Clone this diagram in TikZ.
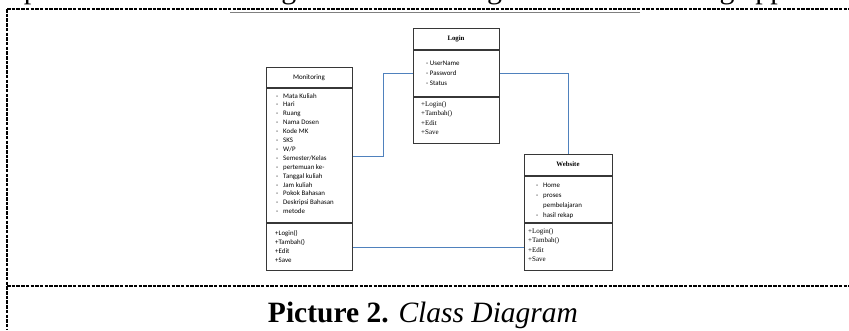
\documentclass[tikz,border=0pt]{standalone}
\usepackage{fontspec}
\setmainfont{Liberation Serif}
\newfontfamily\umlsans{Carlito}
\newfontfamily\umlserif{Liberation Serif}
\definecolor{connblue}{RGB}{79,129,189}
\definecolor{boxgray}{RGB}{55,55,55}
\tikzset{
  classbox/.style={draw=boxgray, line width=1.1pt, anchor=north west, inner sep=0pt, fill=white},
  divider/.style={draw=boxgray, line width=1.1pt},
  conn/.style={draw=connblue, line width=1pt},
  frame/.style={draw=black, line width=1.2pt, dash pattern=on 3.5pt off 1.2pt},
  attr/.style={anchor=base west, inner sep=0pt, font=\umlsans\fontsize{6.9}{7}\selectfont},
  meth/.style={anchor=base west, inner sep=0pt, font=\umlserif\fontsize{7}{7}\selectfont},
  ttlsans/.style={anchor=center, inner sep=0pt, font=\umlsans\fontsize{7}{8}\selectfont},
  ttlserif/.style={anchor=center, inner sep=0pt, font=\umlserif\bfseries\fontsize{6.8}{8}\selectfont},
}
\begin{document}
\begin{tikzpicture}[x=1pt,y=-1pt]
\useasboundingbox (0,0) rectangle (849,330);
\clip (0,0) rectangle (849,330);

% cut-off line of the preceding paragraph
\node[anchor=base west, inner sep=0pt, font=\fontsize{30}{32}\selectfont] (prevtext) at (-28,-2)
  {components. All the changes from the design of the monitoring application};
\draw[gray, line width=1.2pt] (230,12.5) -- (640,12.5);

% dashed frame
\draw[frame] (7,9) -- (849,9);
\draw[frame] (7,9) -- (7,330);
\draw[frame] (7,286) -- (849,286);

% class boxes
\node[classbox, minimum width=86, minimum height=203] (mon) at (266,67) {};
\node[classbox, minimum width=86, minimum height=115] (login) at (413,28) {};
\node[classbox, minimum width=88, minimum height=116] (web) at (524,154) {};

\draw[divider] ([yshift=-21pt]mon.north west) -- ([yshift=-21pt]mon.north east);
\draw[divider] ([yshift=-156pt]mon.north west) -- ([yshift=-156pt]mon.north east);
\draw[divider] ([yshift=-22pt]login.north west) -- ([yshift=-22pt]login.north east);
\draw[divider] ([yshift=-69pt]login.north west) -- ([yshift=-69pt]login.north east);
\draw[divider] ([yshift=-22pt]web.north west) -- ([yshift=-22pt]web.north east);
\draw[divider] ([yshift=-69pt]web.north west) -- ([yshift=-69pt]web.north east);

% Monitoring
\node[ttlsans] (montitle) at (309,77.5) {Monitoring};
\foreach \t [count=\i from 0] in {Mata Kuliah, Hari, Ruang, Nama Dosen, Kode MK, SKS, W/P,
  Semester/Kelas, pertemuan ke-, Tanggal kuliah, Jam kuliah, Pokok Bahasan, Deskripsi Bahasan, metode}
  \node[attr] (monattr\i) at (283,{98+8.9*\i}) {\llap{-\hspace{5pt}}\t};
\foreach \t [count=\i from 0] in {+Login(), +Tambah(), +Edit, +Save}
  \node[attr] (monmeth\i) at (275,{235+9.1*\i}) {\t};

% Login
\node[ttlserif] (logintitle) at (456,39) {Login};
\foreach \t [count=\i from 0] in {UserName, Password, Status}
  \node[attr] (loginattr\i) at (426,{65+10*\i}) {- \t};
\foreach \t [count=\i from 0] in {+Login(), +Tambah(), +Edit, +Save}
  \node[meth] (loginmeth\i) at (421,{106+9.6*\i}) {\t};

% Website
\node[ttlserif] (webtitle) at (568,164) {Website};
\node[attr] (webattr0) at (543,187) {\llap{-\hspace{5pt}}Home};
\node[attr] (webattr1) at (543,197) {\llap{-\hspace{5pt}}proses};
\node[attr] (webattr2) at (543,207) {pembelajaran};
\node[attr] (webattr3) at (543,217) {\llap{-\hspace{5pt}}hasil rekap};
\foreach \t [count=\i from 0] in {+Login(), +Tambah(), +Edit, +Save}
  \node[meth] (webmeth\i) at (528,{233+9.6*\i}) {\t};

% connectors
\draw[conn] ([yshift=-89pt]mon.north east) -- ++(30,0) |- ([yshift=-45pt]login.north west);
\draw[conn] ([yshift=-45pt]login.north east) -| (web.north);
\draw[conn] ([yshift=-180pt]mon.north east) -- ([yshift=-180pt]mon.north east -| web.west);

% caption
\node[anchor=base, inner sep=0pt, font=\fontsize{29.5}{31}\selectfont] (caption) at (423,322)
  {\textbf{Picture 2.} \textit{Class Diagram}};
\end{tikzpicture}
\end{document}
